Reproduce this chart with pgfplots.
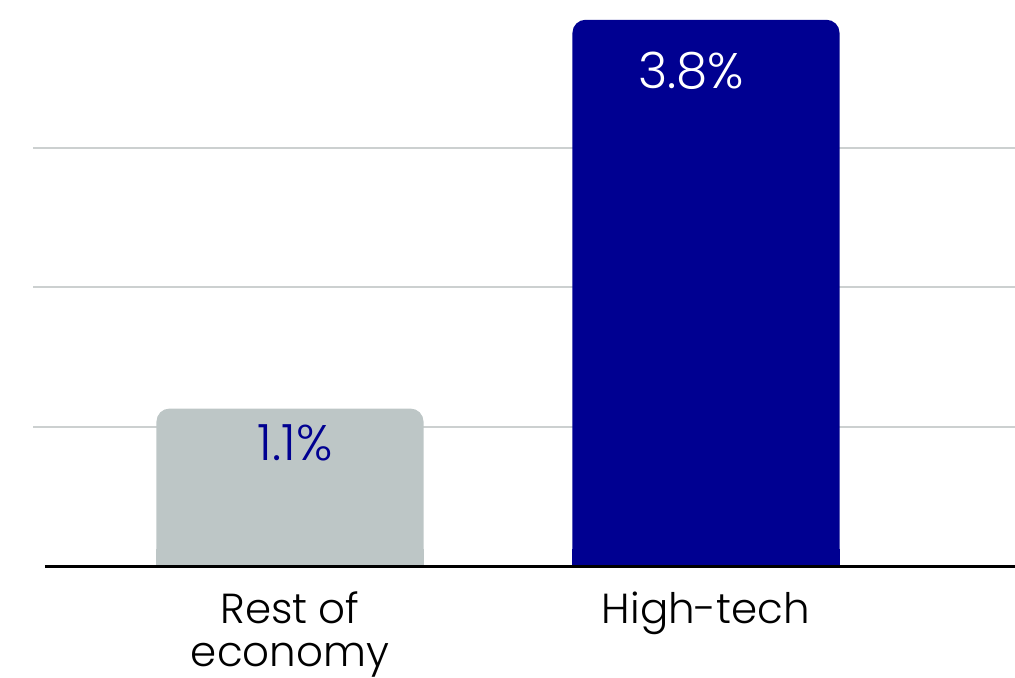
\documentclass[border=0pt]{standalone}
\usepackage{fontspec}
\setmainfont{Poppins Light}
\usepackage{pgfplots}
\pgfplotsset{compat=1.18}
\usepackage{pgfplotstable}

\definecolor{barnavy}{RGB}{0,0,145}
\definecolor{bargray}{RGB}{189,198,198}
\definecolor{gridgray}{RGB}{204,208,208}

\pgfplotstableread{
x y
0 1.1
}\resteco
\pgfplotstableread{
x y
1 3.8
}\hightech

\begin{document}
\begin{tikzpicture}
\begin{axis}[
  scale only axis, width=982pt, height=567pt,
  xmin=-0.6178, xmax=1.7428, ymin=0, ymax=3.9375,
  clip=false,
  ybar, bar width=0.642, bar shift=0pt,
  axis line style={draw=none}, tick style={draw=none},
  xtick={0,1}, xticklabels={{Rest of\\economy},{High-tech}},
  xticklabel style={align=center, font=\fontsize{42}{43}\selectfont, anchor=north, yshift=-17pt},
  ytick={0.972,1.944,2.91}, yticklabels=\empty,
  ymajorgrids, grid style={gridgray, line width=1.5pt},
  /pgf/number format/assume math mode=true,
  nodes near coords={\pgfmathprintnumber[fixed,precision=1,fixed zerofill]{\pgfplotspointmeta}\%},
  every node near coord/.append style={anchor=north, font=\fontsize{50}{52}\selectfont},
]
% low square patches that fill in the bottom corners (18pt high, on whole pixels)
\addplot[draw=none, fill=bargray, nodes near coords={}] coordinates {(0,0.125)};
\addplot[draw=none, fill=barnavy, nodes near coords={}] coordinates {(1,0.125)};
\addplot[draw=none, fill=bargray, rounded corners=13pt,
  every node near coord/.append style={text=barnavy, yshift=-13pt, xshift=5pt}] table[x=x, y=y] {\resteco};
\addplot[draw=none, fill=barnavy, rounded corners=13pt,
  every node near coord/.append style={text=white, yshift=-29pt, xshift=-15pt}] table[x=x, y=y] {\hightech};
\draw[line width=3pt, black] (axis cs:-0.589,0) -- (axis cs:1.7428,0);
\coordinate (bl) at (rel axis cs:0,0);
\coordinate (tr) at (rel axis cs:1,1);
\end{axis}
\pgfresetboundingbox
\path[use as bounding box] (bl) ++(-33pt,-111pt) rectangle (tr);
\end{tikzpicture}
\end{document}
